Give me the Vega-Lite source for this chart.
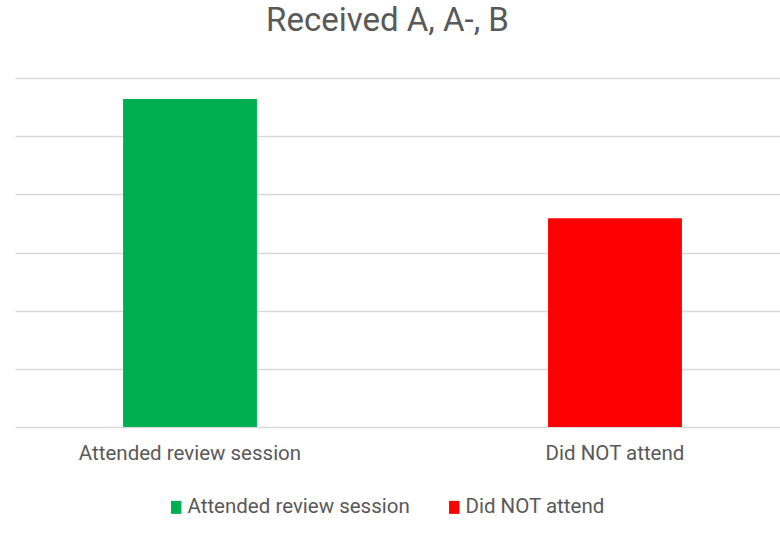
{
  "$schema": "https://vega.github.io/schema/vega-lite/v6.json",
  "width": 775,
  "height": 349,
  "autosize": {"type": "none"},
  "padding": {"left": 15, "top": 78, "right": 0, "bottom": 118},
  "background": "white",
  "title": {
    "text": "Received A, A-, B",
    "anchor": "middle",
    "frame": "group",
    "baseline": "alphabetic",
    "offset": 14,
    "dx": -15,
    "font": "Roboto",
    "fontSize": 33,
    "fontWeight": "normal",
    "color": "#595959"
  },
  "data": {
    "values": [
      {"group": "Attended review session", "value": 5.64},
      {"group": "Did NOT attend", "value": 3.59}
    ]
  },
  "mark": {"type": "bar"},
  "encoding": {
    "x": {
      "field": "group",
      "type": "nominal",
      "sort": null,
      "scale": {"paddingInner": 0.685, "paddingOuter": 0.2543},
      "axis": {
        "title": null,
        "labelAngle": 0,
        "domain": false,
        "ticks": false,
        "labelPadding": 16,
        "labelLimit": 0,
        "labelFont": "Roboto",
        "labelFontSize": 20.5,
        "labelColor": "#595959"
      }
    },
    "y": {
      "field": "value",
      "type": "quantitative",
      "scale": {"domain": [0, 6], "nice": false},
      "axis": {
        "title": null,
        "labels": false,
        "ticks": false,
        "domain": false,
        "values": [0, 1, 2, 3, 4, 5, 6],
        "grid": true,
        "gridColor": "#d9d9d9",
        "gridWidth": 1.5
      }
    },
    "color": {
      "field": "group",
      "type": "nominal",
      "sort": null,
      "scale": {"domain": ["Attended review session", "Did NOT attend"], "range": ["#00B050", "#FF0000"]},
      "legend": {
        "title": null,
        "orient": "none",
        "direction": "horizontal",
        "legendX": 151,
        "legendY": 419,
        "padding": 0,
        "symbolType": "M-0.8,-1H0.8V1H-0.8Z",
        "symbolSize": 169,
        "symbolStrokeWidth": 0,
        "labelOffset": 1,
        "labelLimit": 0,
        "columnPadding": 34,
        "labelFont": "Roboto",
        "labelFontSize": 20.5,
        "labelColor": "#595959"
      }
    }
  },
  "config": {"view": {"stroke": null}}
}
